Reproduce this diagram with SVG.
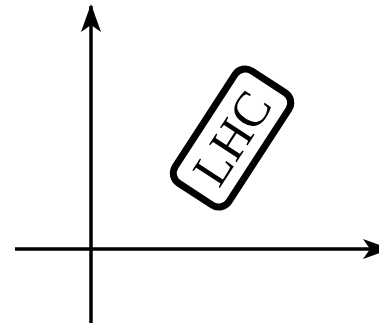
<svg xmlns="http://www.w3.org/2000/svg" width="379" height="325" viewBox="0 0 379 325">
<style>
.ax{stroke:#000;stroke-width:3.5;fill:none}
.box{fill:#fff;stroke:#000;stroke-width:7}
.lbl{font-family:"Liberation Serif",serif;font-size:50px;fill:#000}
</style>
<defs>
<marker id="ah" viewBox="0 0 28 20" refX="26" refY="10" markerWidth="28" markerHeight="20" markerUnits="userSpaceOnUse" orient="auto">
<path d="M0,0 L28,10 L0,20 L7,10 Z" fill="#000"/>
</marker>
</defs>
<g id="connectors">
<line class="ax" x1="91" y1="323" x2="91" y2="6" marker-end="url(#ah)"/>
<line class="ax" x1="15" y1="249" x2="389" y2="249" marker-end="url(#ah)"/>
</g>
<g id="lhc" transform="translate(232,138) rotate(-57)">
<rect class="box" x="-67" y="-32" width="134" height="64" rx="12"/>
<text class="lbl" x="0" y="17" text-anchor="middle">LHC</text>
</g>
</svg>
